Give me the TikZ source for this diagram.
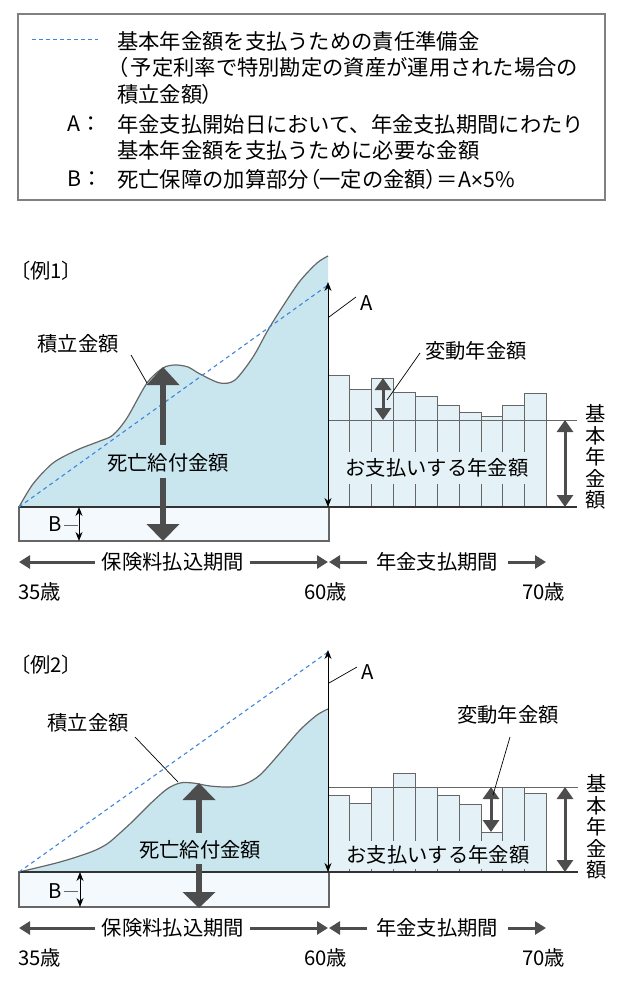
\documentclass[tikz,border=0pt]{standalone}
\usepackage{fontspec}
\setmainfont{Noto Sans CJK JP}
\newfontfamily\jpp[RawFeature=+palt]{Noto Sans CJK JP}
\newfontfamily\latf{Liberation Sans}
\usetikzlibrary{arrows.meta}
\definecolor{curvefill}{HTML}{C9E6EF}
\definecolor{brect}{HTML}{F3F9FC}
\definecolor{barfill}{HTML}{E4F2F7}
\definecolor{dashblue}{HTML}{3D86DA}
\definecolor{darkar}{HTML}{4D4D4D}
\definecolor{linegray}{HTML}{666666}
\definecolor{boxgray}{HTML}{808080}
\newcommand{\pp}[1]{{\jpp #1}}
\tikzset{
 legtext/.style={anchor=west, inner sep=0pt, font=\fontsize{21.3}{25}\selectfont},
 lbl/.style={inner sep=0pt, font=\fontsize{20.3}{24}\selectfont},
 vlbl/.style={inner sep=0pt, align=center, font=\fontsize{20.3}{21.5}\selectfont},
 leader/.style={draw=black, line width=0.7pt},
 dashref/.style={draw=dashblue, line width=1.1pt, dash pattern=on 4pt off 3.5pt},
 curveline/.style={draw=linegray, line width=1.2pt},
 axisarrow/.style={draw=black, line width=1pt, {Stealth[width=7pt,length=9pt]}-{Stealth[width=7pt,length=9pt]}},
 midarrow/.style={draw=darkar, line width=3pt, {Triangle[width=16pt,length=12pt]}-{Triangle[width=16pt,length=12pt]}},
 periodarrow/.style={draw=darkar, line width=3pt, -{Triangle[width=13pt,length=11pt]}},
 bigshaft/.style={draw=darkar, line width=6pt},
 bighead/.style={fill=darkar},
 barstyle/.style={fill=barfill, draw=linegray, line width=1pt},
 baseln/.style={draw=linegray, line width=1pt},
 botln/.style={draw=black!80, line width=1.1pt},
 brectstyle/.style={fill=brect, draw=linegray, line width=1.1pt},
}
\begin{document}
\begin{tikzpicture}[x=1pt,y=-1pt]
\useasboundingbox (0,0) rectangle (623,990);
% ---------------- legend ----------------
\draw[draw=boxgray, line width=1.5pt] (18,14) rectangle (605,200);
\coordinate (ld1) at (32,40); \coordinate (ld2) at (98,40);
\draw[draw=dashblue, line width=1pt, dash pattern=on 4pt off 3pt] (ld1) -- (ld2);
\node[legtext] (l1) at (117,41) {基本年金額を支払うための責任準備金};
\node[legtext] (l2) at (117,67) {\pp{（}\kern3pt 予定利率で特別勘定の資産が運用された場合の};
\node[legtext] (l3) at (117,94) {積立金額\pp{）}};
\node[legtext] (la) at (67,124) {A：};
\node[legtext] (l4) at (117,124) {年金支払開始日において、年金支払期間にわたり};
\node[legtext] (l5) at (117,150) {基本年金額を支払うために必要な金額};
\node[legtext] (lb) at (67,179) {B：};
\node[legtext] (l6) at (117,179) {死亡保障の加算部分\pp{（}一定の金額\pp{）}＝A{\latf ×}5\%};

% ---------------- example 1 ----------------
\node[lbl, anchor=west] (ex1) at (20,271) {\jpp 〔例1〕};
\fill[curvefill] plot[smooth,tension=0.5] coordinates{(19,507) (33,484) (53,463) (77,450) (100,441) (113,435) (127,418) (147,383) (163,368) (175,365) (188,367) (200,374) (220,383) (235,380) (253,357) (268,330) (283,306) (300,281) (317,263) (328,256)} -- (328,507) -- cycle;
\draw[curveline] plot[smooth,tension=0.5] coordinates{(19,507) (33,484) (53,463) (77,450) (100,441) (113,435) (127,418) (147,383) (163,368) (175,365) (188,367) (200,374) (220,383) (235,380) (253,357) (268,330) (283,306) (300,281) (317,263) (328,256)};
\draw[brectstyle] (19,507) rectangle (329,541);
\foreach \t [count=\i from 0] in {375,389,378,392,396,405,412,416,405,393} {
  \draw[barstyle] ({328+\i*21.87},507) rectangle ({328+(\i+1)*21.87},\t);
}
\coordinate (b1L) at (328,420); \coordinate (b1R) at (577,420);
\draw[baseln] (b1L) -- (b1R);
\coordinate (g1L) at (19,507); \coordinate (g1R) at (577,507);
\draw[botln] (g1L) -- (g1R);
\coordinate (d1a) at (19,507); \coordinate (d1b) at (328,285);
\draw[dashref] (d1a) -- (d1b);
% axis A
\coordinate (ax1t) at (328,282); \coordinate (ax1b) at (328,507);
\draw[axisarrow] (ax1b) -- (ax1t);
\node[lbl] (A1) at (367,303) {A};
\coordinate (A1a) at (329,317); \coordinate (A1b) at (356,297);
\draw[leader] (A1a) -- (A1b);
% accumulation label
\node[lbl] (tk1) at (78,344) {積立金額};
\coordinate (tk1a) at (131,355); \coordinate (tk1b) at (147,383);
\draw[leader] (tk1a) -- (tk1b);
% big arrows
\node[lbl] (sb1) at (168,463) {死亡給付金額};
\coordinate (s1a) at (163,445); \coordinate (s1b) at (163,384);
\draw[bigshaft] (s1a) -- (s1b);
\fill[bighead] (146.5,385) -- (179.5,385) -- (163,367) -- cycle;
\coordinate (s1c) at (163,478); \coordinate (s1d) at (163,525);
\draw[bigshaft] (s1c) -- (s1d);
\fill[bighead] (146.5,524) -- (179.5,524) -- (163,541) -- cycle;
% B
\node[lbl] (B1) at (55,524) {B};
\coordinate (B1a) at (64,525); \coordinate (B1b) at (78,525);
\draw[draw=linegray, line width=0.8pt] (B1a) -- (B1b);
\coordinate (B1t) at (79,507); \coordinate (B1d) at (79,541);
\draw[axisarrow] (B1t) -- (B1d);
% variation
\node[lbl] (hd1) at (476,351) {変動年金額};
\coordinate (hd1a) at (420,353); \coordinate (hd1b) at (387,400);
\coordinate (v1t) at (383,378); \coordinate (v1b) at (383,420);
\draw[midarrow] (v1t) -- (v1b);
\draw[leader] (hd1a) -- (hd1b);
\node[lbl, fill=barfill, inner xsep=3pt, inner ysep=7pt] (pay1) at (437,468) {お支払いする年金額};
% basic annuity
\coordinate (k1t) at (565,420); \coordinate (k1b) at (565,507);
\draw[midarrow] (k1t) -- (k1b);
\node[vlbl] (kv1) at (596,457) {基\\本\\年\\金\\額};
% periods
\coordinate (p1a) at (95,562); \coordinate (p1b) at (19,562);
\coordinate (p1c) at (250,562); \coordinate (p1d) at (328,562);
\coordinate (p1e) at (367,562); \coordinate (p1f) at (329,562);
\coordinate (p1g) at (508,562); \coordinate (p1h) at (546,562);
\draw[periodarrow] (p1a) -- (p1b);
\draw[periodarrow] (p1c) -- (p1d);
\draw[periodarrow] (p1e) -- (p1f);
\draw[periodarrow] (p1g) -- (p1h);
\node[lbl] (pp1) at (173,562) {保険料払込期間};
\node[lbl] (pn1) at (437,562) {年金支払期間};
\node[lbl, anchor=west] (a35a) at (18,592) {35歳};
\node[lbl, anchor=west] (a60a) at (304,592) {60歳};
\node[lbl, anchor=west] (a70a) at (522,592) {70歳};

% ---------------- example 2 ----------------
\node[lbl, anchor=west] (ex2) at (20,665) {\jpp 〔例2〕};
\fill[curvefill] plot[smooth,tension=0.5] coordinates{(19,872) (60,862) (91,852) (107,844) (120,833) (133,821) (150,804) (167,789) (180,783) (193,783) (210,786) (230,787) (245,784) (260,775) (280,753) (300,730) (317,715) (328,709)} -- (328,872) -- cycle;
\draw[curveline] plot[smooth,tension=0.5] coordinates{(19,872) (60,862) (91,852) (107,844) (120,833) (133,821) (150,804) (167,789) (180,783) (193,783) (210,786) (230,787) (245,784) (260,775) (280,753) (300,730) (317,715) (328,709)};
\draw[brectstyle] (19,872) rectangle (329,907);
\foreach \t [count=\i from 0] in {795,803,787,773,787,795,804,832,787,793} {
  \draw[barstyle] ({328+\i*21.87},872) rectangle ({328+(\i+1)*21.87},\t);
}
\coordinate (b2L) at (328,787); \coordinate (b2R) at (578,787);
\draw[baseln] (b2L) -- (b2R);
\coordinate (g2L) at (19,872); \coordinate (g2R) at (578,872);
\draw[botln] (g2L) -- (g2R);
\coordinate (d2a) at (19,872); \coordinate (d2b) at (328,652);
\draw[dashref] (d2a) -- (d2b);
\coordinate (ax2t) at (328,650); \coordinate (ax2b) at (328,872);
\draw[axisarrow] (ax2b) -- (ax2t);
\node[lbl] (A2) at (368,672) {A};
\coordinate (A2a) at (329,683); \coordinate (A2b) at (357,667);
\draw[leader] (A2a) -- (A2b);
\node[lbl] (tk2) at (88,723) {積立金額};
\coordinate (tk2a) at (135,737); \coordinate (tk2b) at (178,782);
\draw[leader] (tk2a) -- (tk2b);
\node[lbl] (sb2) at (200,850) {死亡給付金額};
\coordinate (s2a) at (199,833); \coordinate (s2b) at (199,799);
\draw[bigshaft] (s2a) -- (s2b);
\fill[bighead] (182.5,800) -- (215.5,800) -- (199,783) -- cycle;
\coordinate (s2c) at (199,864); \coordinate (s2d) at (199,893);
\draw[bigshaft] (s2c) -- (s2d);
\fill[bighead] (182.5,892) -- (215.5,892) -- (199,908) -- cycle;
\node[lbl] (B2) at (55,891) {B};
\coordinate (B2a) at (64,891); \coordinate (B2b) at (78,891);
\draw[draw=linegray, line width=0.8pt] (B2a) -- (B2b);
\coordinate (B2t) at (80,872); \coordinate (B2d) at (80,907);
\draw[axisarrow] (B2t) -- (B2d);
\node[lbl] (hd2) at (508,715) {変動年金額};
\coordinate (hd2a) at (510,737); \coordinate (hd2b) at (493,795);
\coordinate (v2t) at (491,787); \coordinate (v2b) at (491,832);
\draw[midarrow] (v2t) -- (v2b);
\draw[leader] (hd2a) -- (hd2b);
\node[lbl, fill=barfill, inner xsep=3pt, inner ysep=5pt] (pay2) at (438,855) {お支払いする年金額};
\coordinate (k2t) at (565,787); \coordinate (k2b) at (565,872);
\draw[midarrow] (k2t) -- (k2b);
\node[vlbl] (kv2) at (597,827) {基\\本\\年\\金\\額};
\coordinate (p2a) at (95,928); \coordinate (p2b) at (19,928);
\coordinate (p2c) at (250,928); \coordinate (p2d) at (328,928);
\coordinate (p2e) at (367,928); \coordinate (p2f) at (329,928);
\coordinate (p2g) at (508,928); \coordinate (p2h) at (546,928);
\draw[periodarrow] (p2a) -- (p2b);
\draw[periodarrow] (p2c) -- (p2d);
\draw[periodarrow] (p2e) -- (p2f);
\draw[periodarrow] (p2g) -- (p2h);
\node[lbl] (pp2) at (173,928) {保険料払込期間};
\node[lbl] (pn2) at (437,928) {年金支払期間};
\node[lbl, anchor=west] (a35b) at (18,958) {35歳};
\node[lbl, anchor=west] (a60b) at (304,958) {60歳};
\node[lbl, anchor=west] (a70b) at (522,958) {70歳};
\end{tikzpicture}
\end{document}
